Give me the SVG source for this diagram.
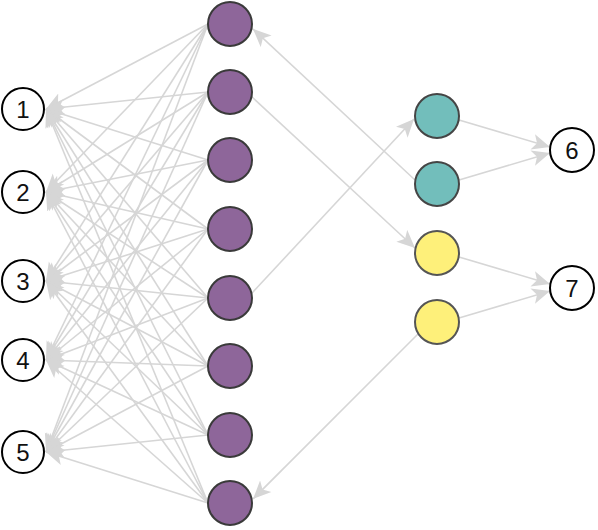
<svg xmlns="http://www.w3.org/2000/svg" width="598" height="530" viewBox="0 0 598 530">
<style>
.e{stroke:#d6d6d6;stroke-width:1.6;fill:none;marker-end:url(#arr)}
.io circle{fill:#fff;stroke:#000;stroke-width:2}
.io text{font-family:"Liberation Sans",Arial,sans-serif;font-size:24px;fill:#111;text-anchor:middle}
.p circle{fill:#8e669a;stroke:#3a3a3a;stroke-width:2}
.t circle{fill:#72bebb;stroke:#454545;stroke-width:2}
.y circle{fill:#fef07a;stroke:#555;stroke-width:2}
</style>
<defs>
<marker id="arr" markerUnits="userSpaceOnUse" markerWidth="20" markerHeight="18" viewBox="0 0 20 18" refX="18" refY="9" orient="auto">
<path d="M18,9 L0,1 L4.5,9 L0,17 Z" fill="#d6d6d6"/>
</marker>
</defs>
<rect width="598" height="530" fill="#fff"/>
<g id="connectors">
<line class="e" x1="208" y1="24" x2="46" y2="109"/><line class="e" x1="208" y1="24" x2="46" y2="192"/><line class="e" x1="208" y1="24" x2="46" y2="281"/><line class="e" x1="208" y1="24" x2="46" y2="360"/><line class="e" x1="208" y1="24" x2="46" y2="452"/>
<line class="e" x1="208" y1="92" x2="46" y2="109"/><line class="e" x1="208" y1="92" x2="46" y2="192"/><line class="e" x1="208" y1="92" x2="46" y2="281"/><line class="e" x1="208" y1="92" x2="46" y2="360"/><line class="e" x1="208" y1="92" x2="46" y2="452"/>
<line class="e" x1="208" y1="160" x2="46" y2="109"/><line class="e" x1="208" y1="160" x2="46" y2="192"/><line class="e" x1="208" y1="160" x2="46" y2="281"/><line class="e" x1="208" y1="160" x2="46" y2="360"/><line class="e" x1="208" y1="160" x2="46" y2="452"/>
<line class="e" x1="208" y1="229" x2="46" y2="109"/><line class="e" x1="208" y1="229" x2="46" y2="192"/><line class="e" x1="208" y1="229" x2="46" y2="281"/><line class="e" x1="208" y1="229" x2="46" y2="360"/><line class="e" x1="208" y1="229" x2="46" y2="452"/>
<line class="e" x1="208" y1="298" x2="46" y2="109"/><line class="e" x1="208" y1="298" x2="46" y2="192"/><line class="e" x1="208" y1="298" x2="46" y2="281"/><line class="e" x1="208" y1="298" x2="46" y2="360"/><line class="e" x1="208" y1="298" x2="46" y2="452"/>
<line class="e" x1="208" y1="366" x2="46" y2="109"/><line class="e" x1="208" y1="366" x2="46" y2="192"/><line class="e" x1="208" y1="366" x2="46" y2="281"/><line class="e" x1="208" y1="366" x2="46" y2="360"/><line class="e" x1="208" y1="366" x2="46" y2="452"/>
<line class="e" x1="208" y1="435" x2="46" y2="109"/><line class="e" x1="208" y1="435" x2="46" y2="192"/><line class="e" x1="208" y1="435" x2="46" y2="281"/><line class="e" x1="208" y1="435" x2="46" y2="360"/><line class="e" x1="208" y1="435" x2="46" y2="452"/>
<line class="e" x1="208" y1="503" x2="46" y2="109"/><line class="e" x1="208" y1="503" x2="46" y2="192"/><line class="e" x1="208" y1="503" x2="46" y2="281"/><line class="e" x1="208" y1="503" x2="46" y2="360"/><line class="e" x1="208" y1="503" x2="46" y2="452"/>
<line class="e" x1="252" y1="97" x2="415" y2="248"/>
<line class="e" x1="252" y1="293" x2="414" y2="119"/>
<line class="e" x1="415" y1="180" x2="253" y2="29"/>
<line class="e" x1="418" y1="334" x2="253" y2="499"/>
<line class="e" x1="459" y1="120" x2="550" y2="147"/>
<line class="e" x1="459" y1="180" x2="550" y2="153"/>
<line class="e" x1="459" y1="257" x2="550" y2="284"/>
<line class="e" x1="459" y1="318" x2="550" y2="291"/>
</g>
<g id="in1" class="io"><circle cx="23" cy="109" r="21"/><text x="23" y="118">1</text></g>
<g id="in2" class="io"><circle cx="23" cy="192" r="21"/><text x="23" y="201">2</text></g>
<g id="in3" class="io"><circle cx="23" cy="281" r="21"/><text x="23" y="290">3</text></g>
<g id="in4" class="io"><circle cx="23" cy="360" r="21"/><text x="23" y="369">4</text></g>
<g id="in5" class="io"><circle cx="23" cy="452" r="21"/><text x="23" y="461">5</text></g>
<g id="p1" class="p"><circle cx="230" cy="24" r="22"/></g>
<g id="p2" class="p"><circle cx="230" cy="92" r="22"/></g>
<g id="p3" class="p"><circle cx="230" cy="160" r="22"/></g>
<g id="p4" class="p"><circle cx="230" cy="229" r="22"/></g>
<g id="p5" class="p"><circle cx="230" cy="298" r="22"/></g>
<g id="p6" class="p"><circle cx="230" cy="366" r="22"/></g>
<g id="p7" class="p"><circle cx="230" cy="435" r="22"/></g>
<g id="p8" class="p"><circle cx="230" cy="503" r="22"/></g>
<g id="t1" class="t"><circle cx="437" cy="116" r="22"/></g>
<g id="t2" class="t"><circle cx="437" cy="184" r="22"/></g>
<g id="y1" class="y"><circle cx="437" cy="253" r="22"/></g>
<g id="y2" class="y"><circle cx="437" cy="322" r="22"/></g>
<g id="out6" class="io"><circle cx="572" cy="150" r="22"/><text x="572" y="159">6</text></g>
<g id="out7" class="io"><circle cx="572" cy="288" r="22"/><text x="572" y="297">7</text></g>
</svg>
